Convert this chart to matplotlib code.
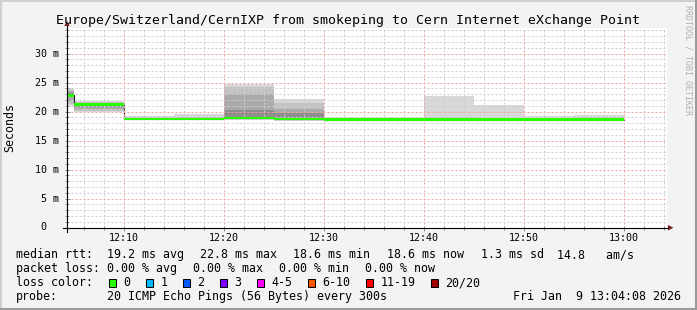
"""
Smokeping latency graph for Europe/Switzerland/CernIXP, redrawn with matplotlib.
"""

import matplotlib
matplotlib.use("Agg")
import matplotlib.pyplot as plt
import numpy as np
from matplotlib import transforms
from matplotlib.lines import Line2D
from matplotlib.patches import Polygon, Rectangle

# Canvas size in pixels (dpi 100)
W, H = 697, 310
MONO = "DejaVu Sans Mono"
plt.rcParams["font.family"] = [MONO]

# Time axis, minutes after 12:00
t_start, t_end = 4.3, 64.3
step_end_min = [5, 10, 15, 20, 25, 30, 35, 40, 45, 50, 55, 60]

# median rtt per 5 minute step (ms)
median_ms = [22.8, 21.2, 18.7, 18.7, 18.9, 18.7, 18.6, 18.6, 18.6, 18.6, 18.6, 18.6]

# smoke bands, outer (lightest) to inner (darkest), ms
smoke_hi = [
    [24.1, 21.9, 19.3, 19.6, 24.8, 22.2, 19.1, 19.0, 22.6, 21.15, 19.2, 19.4],
    [23.8, 21.6, 19.0, 19.1, 24.3, 21.5, 18.9, 18.9, 19.1, 18.9, 18.9, 19.0],
    [23.5, 21.5, 18.9, 18.9, 23.1, 20.4, 18.8, 18.8, 18.85, 18.8, 18.8, 18.8],
    [23.2, 21.4, 18.8, 18.8, 20.2, 19.7, 18.75, 18.75, 18.75, 18.75, 18.75, 18.75],
]
smoke_lo = [
    [20.9, 19.9, 18.5, 18.5, 18.6, 18.4, 18.45, 18.45, 18.45, 18.45, 18.45, 18.45],
    [21.3, 20.1, 18.55, 18.55, 18.7, 18.5, 18.5, 18.5, 18.5, 18.5, 18.5, 18.5],
    [21.8, 20.4, 18.6, 18.6, 18.75, 18.55, 18.55, 18.55, 18.55, 18.55, 18.55, 18.55],
    [22.5, 20.8, 18.65, 18.65, 18.8, 18.6, 18.6, 18.6, 18.6, 18.6, 18.6, 18.6],
]
smoke_colors = ["#d8d8d8", "#c2c2c2", "#aaaaaa", "#8e8e8e"]

x_tick_min = [10, 20, 30, 40, 50, 60]
x_tick_labels = ["12:10", "12:20", "12:30", "12:40", "12:50", "13:00"]
y_tick_ms = [0, 5, 10, 15, 20, 25, 30]
y_tick_labels = ["0", "5 m", "10 m", "15 m", "20 m", "25 m", "30 m"]

title = "Europe/Switzerland/CernIXP from smokeping to Cern Internet eXchange Point"

rtt_items = ["median rtt:", "19.2 ms avg", "22.8 ms max", "18.6 ms min",
             "18.6 ms now", "1.3 ms sd", "14.8   am/s"]
loss_items = ["packet loss:", "0.00 % avg", "0.00 % max", "0.00 % min", "0.00 % now"]
loss_labels = ["0", "1", "2", "3", "4-5", "6-10", "11-19", "20/20"]
loss_colors = ["#26ff00", "#00b8ff", "#0059ff", "#7e00ff", "#ff00ff",
               "#ff5500", "#ff0000", "#a00000"]
probe_text = "20 ICMP Echo Pings (56 Bytes) every 300s"
date_text = "Fri Jan  9 13:04:08 2026"


def fx(px):
    return px / W


def fy(py):
    return 1 - py / H


fig = plt.figure(figsize=(W / 100, H / 100), dpi=100, facecolor="#f3f3f3")

# bevelled frame
fig.add_artist(Rectangle((0, 0), 1, 1, transform=fig.transFigure,
                         fill=False, edgecolor="#cfcfcf", lw=2.2))
fig.add_artist(Line2D([fx(0), fx(697)], [fy(309), fy(309)], color="#9a9a9a", lw=2.2))
fig.add_artist(Line2D([fx(696), fx(696)], [fy(0), fy(310)], color="#9a9a9a", lw=2.2))

ax = fig.add_axes([fx(67), fy(227.5), 600 / W, 200 / H])
ax.set_facecolor("white")
ax.set_xlim(t_start, t_end)
ax.set_ylim(0, 34.5)
for s in ax.spines.values():
    s.set_visible(False)

edges = np.array([0] + step_end_min, dtype=float)


def stepped(vals):
    vals = np.asarray(vals, dtype=float)
    return np.append(vals, vals[-1])


for lo, hi, c in zip(smoke_lo, smoke_hi, smoke_colors):
    ax.fill_between(edges, stepped(lo), stepped(hi), step="post",
                    color=c, lw=0, zorder=1)

med = stepped(median_ms)
ax.step(edges, med, where="post", color="#202020", lw=0.8, zorder=2)
ax.fill_between(edges, med - 0.24, med + 0.24, step="post",
                color=loss_colors[0], lw=0, zorder=3)

# grid
ax.set_xticks(x_tick_min)
ax.set_xticks(np.arange(6, 65, 2), minor=True)
ax.set_yticks(y_tick_ms)
ax.set_yticks(np.arange(0, 35, 1), minor=True)
ax.grid(which="minor", color="#cdcdcd", lw=0.72, linestyle=(0, (2, 2)))
ax.grid(which="major", color="#f3a0a0", lw=0.72, linestyle=(0, (2, 2)))
ax.set_axisbelow(False)
ax.tick_params(which="both", direction="inout", labelbottom=False,
               labelleft=False, color="#8c8c8c", width=0.72)
ax.tick_params(which="major", length=3.6)
ax.tick_params(which="minor", length=2.2)

# axis lines and arrows
fig.add_artist(Line2D([fx(63), fx(668)], [fy(227.7), fy(227.7)], color="black", lw=0.8))
fig.add_artist(Line2D([fx(67), fx(67)], [fy(231.5), fy(26)], color="black", lw=0.8))
fig.add_artist(Polygon([(fx(668), fy(225)), (fx(668), fy(230.5)), (fx(673.5), fy(227.7))],
                       closed=True, transform=fig.transFigure, color="#7f1f1f", lw=0))
fig.add_artist(Polygon([(fx(64.3), fy(26)), (fx(69.7), fy(26)), (fx(67), fy(20.8))],
                       closed=True, transform=fig.transFigure, color="#7f1f1f", lw=0))

# tick labels
tick_size = 7.2
xt = transforms.blended_transform_factory(ax.transData, fig.transFigure)
for t, lab in zip(x_tick_min, x_tick_labels):
    fig.text(t, fy(241), lab, transform=xt, ha="center", va="baseline",
             size=tick_size, family=MONO)
yt = transforms.blended_transform_factory(fig.transFigure, ax.transData)
for v, lab in zip(y_tick_ms, y_tick_labels):
    xr = 58.8 if " " in lab else 46.8
    fig.text(fx(xr), v, lab, transform=yt, ha="right", va="center",
             size=tick_size, family=MONO)

# titles
fig.text(fx(348), fy(24), title, ha="center", va="baseline", size=9.57, family=MONO)
fig.text(fx(10), fy(127.5), "Seconds", rotation=90, ha="center", va="center",
         size=8.37, family=MONO)
fig.text(fx(688), fy(60), "RRDTOOL / TOBI OETIKER", rotation=270, ha="center",
         va="center", size=6, color="#b0b0b0", family=MONO)

# legend rows
leg_size = 8.37
for x, s in zip([16, 107, 200, 293, 387, 481, 557], rtt_items):
    fig.text(fx(x), fy(258), s, ha="left", va="baseline", size=leg_size, family=MONO)
for x, s in zip([16, 107, 193, 279, 365], loss_items):
    fig.text(fx(x), fy(272), s, ha="left", va="baseline", size=leg_size, family=MONO)

fig.text(fx(16), fy(286), "loss color:", ha="left", va="baseline", size=leg_size, family=MONO)
x0 = 108.5
for lab, c in zip(loss_labels, loss_colors):
    fig.add_artist(Rectangle((fx(x0), fy(286.5)), 7.5 / W, 7.5 / H,
                             transform=fig.transFigure, facecolor=c,
                             edgecolor="black", lw=0.72))
    fig.text(fx(x0 + 15), fy(286), lab, ha="left", va="baseline", size=leg_size, family=MONO)
    x0 += 30 + 7 * len(lab)

fig.text(fx(16), fy(300), "probe:", ha="left", va="baseline", size=leg_size, family=MONO)
fig.text(fx(107), fy(300), probe_text, ha="left", va="baseline", size=leg_size, family=MONO)
fig.text(fx(513), fy(300), date_text, ha="left", va="baseline", size=leg_size, family=MONO)

fig.savefig("out.png", dpi=100, facecolor=fig.get_facecolor())
